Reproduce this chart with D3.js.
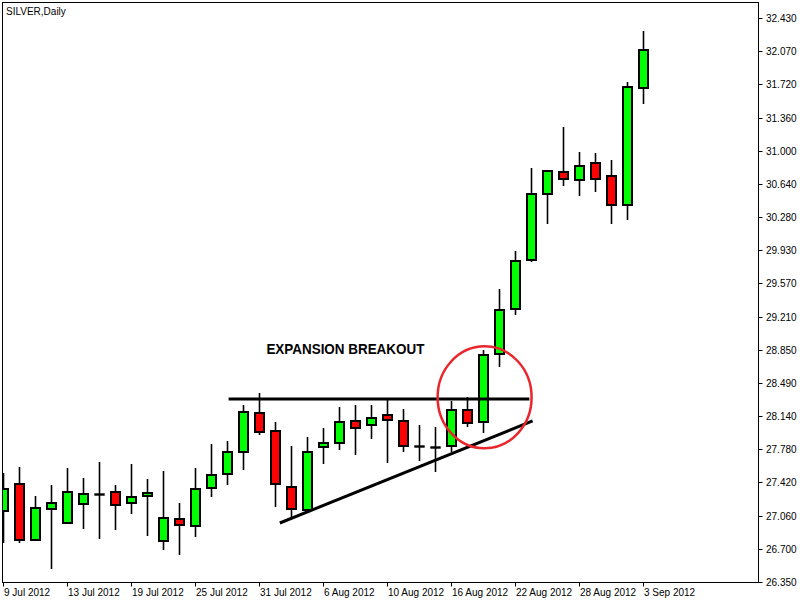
<!DOCTYPE html>
<html>
<head>
<meta charset="utf-8">
<script src="https://cdn.jsdelivr.net/npm/d3@7"></script>
<style>
  body { margin: 0; background: #fff; }
  svg text { font-family: "Liberation Sans", Arial, sans-serif; }
</style>
</head>
<body>
<div id="chart"></div>
<script>
// daily silver prices, 9 Jul - 3 Sep 2012
const dates = ["2012-07-09","2012-07-10","2012-07-11","2012-07-12","2012-07-13",
  "2012-07-16","2012-07-17","2012-07-18","2012-07-19","2012-07-20",
  "2012-07-23","2012-07-24","2012-07-25","2012-07-26","2012-07-27",
  "2012-07-30","2012-07-31","2012-08-01","2012-08-02","2012-08-03",
  "2012-08-06","2012-08-07","2012-08-08","2012-08-09","2012-08-10",
  "2012-08-13","2012-08-14","2012-08-15","2012-08-16","2012-08-17",
  "2012-08-20","2012-08-21","2012-08-22","2012-08-23","2012-08-24",
  "2012-08-27","2012-08-28","2012-08-29","2012-08-30","2012-08-31","2012-09-03"];

const open  = [27.115,27.407,26.800,27.140,26.983,27.188,27.296,27.317,27.198,27.274,
  26.789,27.026,26.951,27.360,27.511,27.748,28.169,27.975,27.371,27.123,
  27.802,27.845,28.082,28.039,28.147,28.082,27.819,27.809,27.813,28.201,
  28.072,28.805,29.290,29.818,30.530,30.767,30.680,30.864,30.724,30.411,31.672];
const high  = [27.525,27.593,27.277,27.396,27.579,27.471,27.644,27.396,27.622,27.460,
  27.547,27.202,27.579,27.838,27.870,28.258,28.384,28.072,27.816,27.913,
  28.010,28.237,28.258,28.258,28.323,28.212,28.039,28.018,28.305,28.348,
  28.854,29.505,29.915,30.813,30.777,31.255,30.986,30.975,30.899,31.740,32.290];
const low   = [26.770,26.774,26.792,26.494,26.975,26.925,26.817,26.914,27.086,26.849,
  26.698,26.644,26.838,27.270,27.399,27.561,27.932,27.162,27.040,27.115,
  27.625,27.776,27.722,27.895,27.636,27.755,27.658,27.539,27.748,28.018,
  27.953,28.671,29.225,29.796,30.213,30.622,30.514,30.558,30.213,30.256,31.500];
const close = [27.353,26.800,27.145,27.198,27.317,27.296,27.296,27.177,27.263,27.306,
  27.037,26.961,27.349,27.504,27.748,28.179,27.964,27.403,27.134,27.748,
  27.845,28.072,28.007,28.115,28.093,27.813,27.819,27.809,28.201,28.061,
  28.794,29.279,29.807,30.530,30.777,30.691,30.831,30.691,30.411,31.683,32.082];

const priceTickLabels = ["26.350","26.700","27.060","27.420","27.780","28.140","28.490",
  "28.850","29.210","29.570","29.930","30.280","30.640","31.000","31.360","31.720","32.070","32.430"];
const dateTickLabels = ["9 Jul 2012","13 Jul 2012","19 Jul 2012","25 Jul 2012","31 Jul 2012",
  "6 Aug 2012","10 Aug 2012","16 Aug 2012","22 Aug 2012","28 Aug 2012","3 Sep 2012"];

// hand-drawn annotations (bar index / price)
const resistance = { from: 14.1, to: 32.9, price: 28.323 };
const trendline  = { x1: 17.3, p1: 26.986, x2: 33.1, p2: 28.086 };
const breakout   = { bar: 30.1, price: 28.341 };
const noteText   = { bar: 21.4, price: 28.808, text: "EXPANSION BREAKOUT" };

const width = 800, height = 600;
const frame = { left: 2.5, top: 2.5, right: 758.5, bottom: 582.5 };

const svg = d3.select("#chart").append("svg")
    .attr("width", width)
    .attr("height", height);

const parse = d3.timeParse("%Y-%m-%d");
const fmt = d3.timeFormat("%-d %b %Y");

const bars = dates.map((d, i) => ({
    i: i, date: parse(d), o: open[i], h: high[i], l: low[i], c: close[i]
}));

const x = d3.scaleLinear().domain([0, 40]).range([3, 643]);
const y = d3.scaleLinear().domain([26.35, 32.43]).range([582, 18]);

svg.append("clipPath").attr("id", "plot")
  .append("rect")
    .attr("x", frame.left).attr("y", frame.top)
    .attr("width", frame.right - frame.left)
    .attr("height", frame.bottom - frame.top);

const plot = svg.append("g").attr("clip-path", "url(#plot)");

// wicks
plot.selectAll("line.wick")
    .data(bars)
    .enter()
    .append("line")
    .attr("class", "wick")
    .attr("x1", d => Math.round(x(d.i)) + 0.5)
    .attr("x2", d => Math.round(x(d.i)) + 0.5)
    .attr("y1", d => Math.round(y(d.h)))
    .attr("y2", d => Math.round(y(d.l)))
    .attr("stroke", "#000")
    .attr("stroke-width", 1.6);

// bodies (2px outline, outer width 10px)
plot.selectAll("rect.body")
    .data(bars)
    .enter()
    .append("rect")
    .attr("class", "body")
    .attr("x", d => Math.round(x(d.i)) - 4)
    .attr("width", 9)
    .attr("y", d => Math.round(y(Math.max(d.o, d.c))))
    .attr("height", d => Math.max(1, Math.round(y(Math.min(d.o, d.c))) - Math.round(y(Math.max(d.o, d.c)))))
    .attr("fill", d => d.c > d.o ? "#00ff00" : d.c < d.o ? "#ff0000" : "#000")
    .attr("stroke", "#000")
    .attr("stroke-width", d => d.c === d.o ? 1.4 : 2);

// annotations
plot.append("line")
    .attr("x1", x(resistance.from)).attr("x2", x(resistance.to))
    .attr("y1", y(resistance.price)).attr("y2", y(resistance.price))
    .attr("stroke", "#000").attr("stroke-width", 3);

plot.append("line")
    .attr("x1", x(trendline.x1)).attr("y1", y(trendline.p1))
    .attr("x2", x(trendline.x2)).attr("y2", y(trendline.p2))
    .attr("stroke", "#000").attr("stroke-width", 3);

plot.append("ellipse")
    .attr("cx", x(breakout.bar)).attr("cy", y(breakout.price))
    .attr("rx", 47).attr("ry", 51)
    .attr("fill", "none")
    .attr("stroke", "#e8262b").attr("stroke-width", 2.5);

plot.append("text")
    .attr("x", x(noteText.bar)).attr("y", y(noteText.price))
    .attr("text-anchor", "middle")
    .attr("font-size", 14)
    .attr("font-weight", "bold")
    .attr("textLength", 158)
    .attr("lengthAdjust", "spacingAndGlyphs")
    .text(noteText.text);

// frame
svg.append("rect")
    .attr("x", frame.left).attr("y", frame.top)
    .attr("width", frame.right - frame.left)
    .attr("height", frame.bottom - frame.top)
    .attr("fill", "none").attr("stroke", "#000");

svg.append("text")
    .attr("x", 6).attr("y", 15)
    .attr("font-size", 10)
    .text("SILVER,Daily");

// price axis on the right
const lo = 26.35, hi = 32.43;
const priceTicks = priceTickLabels.map((t, i) => ({ v: lo + i * (hi - lo) / 17, label: t }));

const yAxis = svg.append("g");
yAxis.selectAll("line")
    .data(priceTicks)
    .enter()
    .append("line")
    .attr("x1", frame.right).attr("x2", frame.right + 4)
    .attr("y1", d => Math.round(y(d.v)) + 0.5)
    .attr("y2", d => Math.round(y(d.v)) + 0.5)
    .attr("stroke", "#000");
yAxis.selectAll("text")
    .data(priceTicks)
    .enter()
    .append("text")
    .attr("x", 766)
    .attr("y", d => Math.round(y(d.v)) + 4)
    .attr("font-size", 10)
    .text(d => d.label);

// date axis
const dateTicks = dateTickLabels.map(t => ({ label: t, i: bars.findIndex(b => fmt(b.date) === t) }));

const xAxis = svg.append("g");
xAxis.selectAll("line")
    .data(dateTicks)
    .enter()
    .append("line")
    .attr("x1", d => Math.round(x(d.i)) + 0.5)
    .attr("x2", d => Math.round(x(d.i)) + 0.5)
    .attr("y1", frame.bottom).attr("y2", frame.bottom + 4)
    .attr("stroke", "#000");
xAxis.selectAll("text")
    .data(dateTicks)
    .enter()
    .append("text")
    .attr("x", d => Math.round(x(d.i)) + 1)
    .attr("y", 596)
    .attr("font-size", 10)
    .text(d => d.label);
</script>
</body>
</html>
